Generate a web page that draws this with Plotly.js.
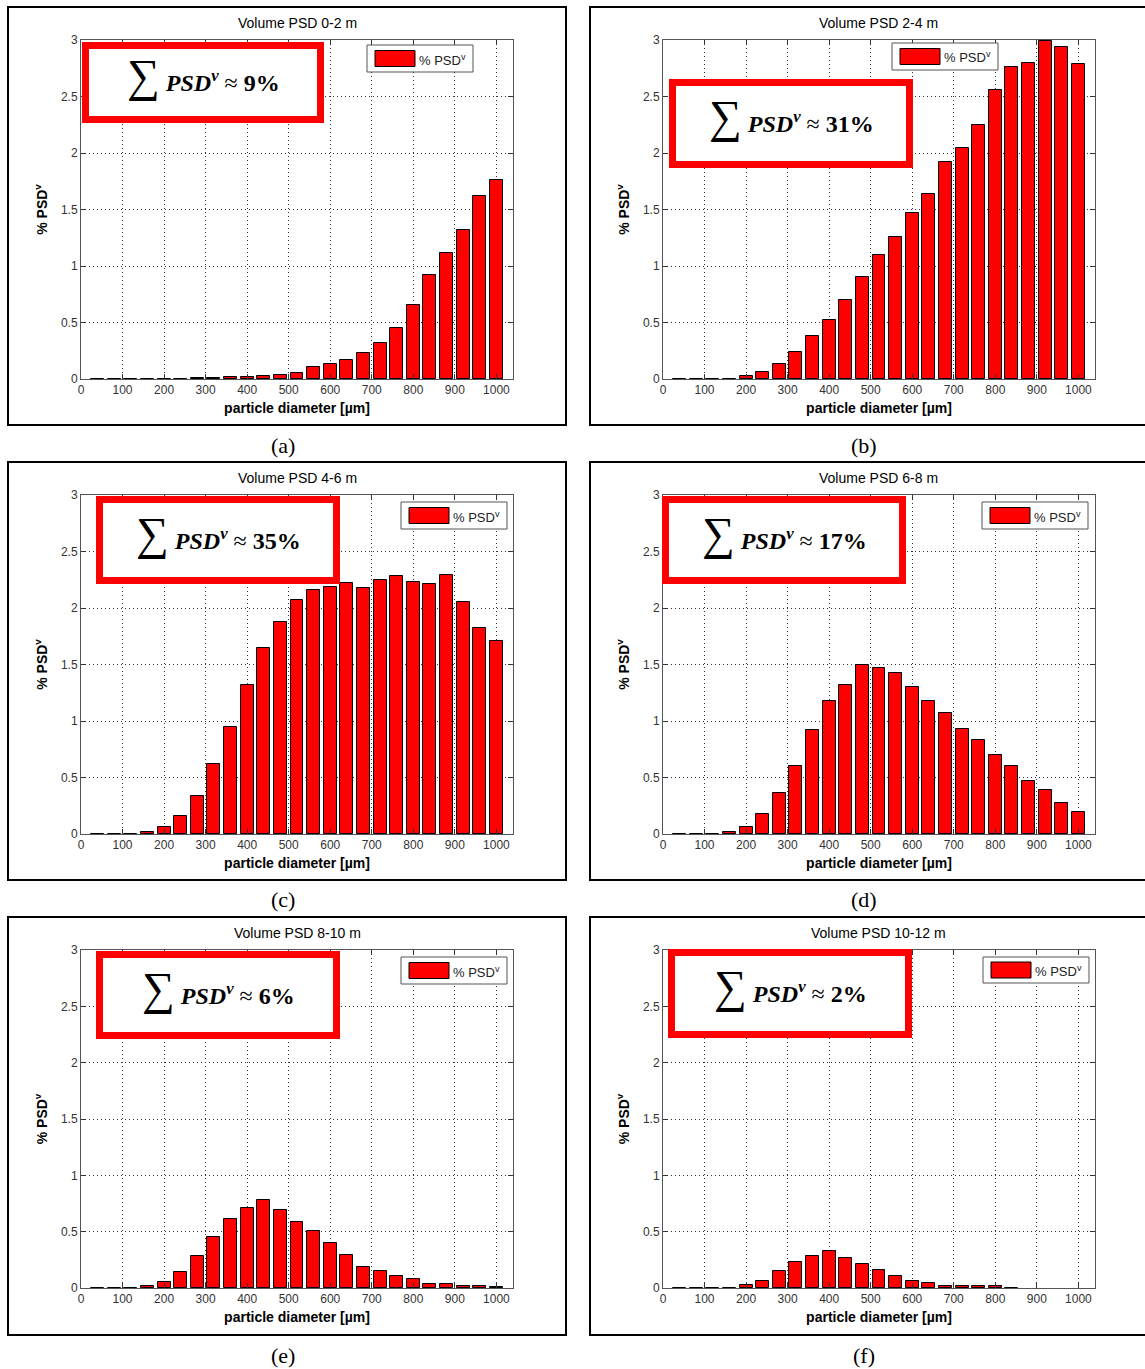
<!DOCTYPE html>
<html>
<head>
<meta charset="utf-8">
<script src="https://cdn.plot.ly/plotly-3.0.1.min.js"></script>
<style>
  html, body { margin: 0; padding: 0; background: #ffffff; }
  #chart { width: 1145px; height: 1369px; }
</style>
</head>
<body>
<div id="chart"></div>
<script>
// ---------------- DATA ----------------
const diameters = [40, 80, 120, 160, 200, 240, 280, 320, 360, 400, 440, 480, 520,
                   560, 600, 640, 680, 720, 760, 800, 840, 880, 920, 960, 1000];

const psd_0_2 = [0.004, 0.004, 0.004, 0.004, 0.004, 0.004, 0.005, 0.008, 0.018, 0.018,
                 0.027, 0.035, 0.053, 0.103, 0.133, 0.165, 0.227, 0.315, 0.455, 0.655,
                 0.92, 1.115, 1.32, 1.62, 1.76];
const psd_2_4 = [0.003, 0.003, 0.003, 0.003, 0.024, 0.059, 0.13, 0.236, 0.377, 0.52,
                 0.70, 0.90, 1.093, 1.26, 1.465, 1.64, 1.92, 2.04, 2.245, 2.56,
                 2.76, 2.80, 2.99, 2.94, 2.79];
const psd_4_6 = [0.003, 0.004, 0.004, 0.018, 0.059, 0.156, 0.34, 0.62, 0.943, 1.32,
                 1.645, 1.875, 2.07, 2.163, 2.19, 2.225, 2.18, 2.25, 2.28, 2.234,
                 2.216, 2.29, 2.057, 1.82, 1.71];
const psd_6_8 = [0.004, 0.004, 0.004, 0.018, 0.059, 0.174, 0.365, 0.598, 0.917, 1.173,
                 1.32, 1.497, 1.47, 1.426, 1.297, 1.18, 1.067, 0.925, 0.83, 0.70,
                 0.598, 0.47, 0.386, 0.277, 0.197];
const psd_8_10 = [0.003, 0.004, 0.004, 0.015, 0.05, 0.139, 0.287, 0.455, 0.61, 0.71,
                  0.777, 0.69, 0.59, 0.505, 0.40, 0.296, 0.19, 0.154, 0.11, 0.083,
                  0.038, 0.038, 0.015, 0.015, 0.006];
const psd_10_12 = [0.003, 0.003, 0.003, 0.003, 0.024, 0.065, 0.154, 0.234, 0.287, 0.331,
                   0.266, 0.216, 0.163, 0.109, 0.059, 0.041, 0.015, 0.015, 0.015, 0.015,
                   0.004, null, null, null, null];

const panelTitles = ["Volume PSD 0-2 m", "Volume PSD 2-4 m", "Volume PSD 4-6 m",
                     "Volume PSD 6-8 m", "Volume PSD 8-10 m", "Volume PSD 10-12 m"];
const sumLabels = ["9%", "31%", "35%", "17%", "6%", "2%"];
const captions = ["(a)", "(b)", "(c)", "(d)", "(e)", "(f)"];
const xTickVals = [0, 100, 200, 300, 400, 500, 600, 700, 800, 900, 1000];
const yTickVals = [0, 0.5, 1, 1.5, 2, 2.5, 3];
const seriesName = "% PSD<sup>v</sup>";

const allSeries = [psd_0_2, psd_2_4, psd_4_6, psd_6_8, psd_8_10, psd_10_12];

// ---------------- LAYOUT GEOMETRY (pixels) ----------------
const W = 1145, H = 1369;
const px = v => v / W;
const py = v => 1 - v / H;

// plot area boxes [left, right, top, bottom] in px
const plotBoxes = [
  [81, 513, 40, 379], [663, 1095, 40, 379],
  [81, 513, 495, 834], [663, 1095, 495, 834],
  [81, 513, 950, 1288], [663, 1095, 950, 1288]
];
// panel frames
const frames = [
  [8, 566, 7, 425], [590, 1152, 7, 425],
  [8, 566, 462, 880], [590, 1152, 462, 880],
  [8, 566, 917, 1335], [590, 1152, 917, 1335]
];
// red sum boxes (outer px)
const sumBoxes = [
  [82, 324, 42, 123], [669, 913, 79, 168],
  [96, 340, 496, 584], [662, 906, 496, 584],
  [96, 340, 951, 1039], [668, 912, 949, 1038]
];
// legend boxes
const legendBoxes = [
  [367, 473, 45, 72], [892, 998, 43, 70],
  [401, 507, 502, 529], [982, 1088, 502, 529],
  [401, 507, 957, 984], [983, 1089, 957, 983]
];

const fontSans = "Liberation Sans";
const fontSerif = "Liberation Serif";

const traces = [];
const layout = {
  width: W, height: H,
  margin: {l: 0, r: 0, t: 0, b: 0},
  paper_bgcolor: "#ffffff",
  plot_bgcolor: "#ffffff",
  showlegend: false,
  bargap: 0,
  shapes: [],
  annotations: []
};

allSeries.forEach((vals, i) => {
  const n = i + 1;
  const xa = n === 1 ? "x" : "x" + n;
  const ya = n === 1 ? "y" : "y" + n;
  traces.push({
    type: "bar",
    x: diameters,
    y: vals,
    width: 31,
    name: seriesName,
    xaxis: xa, yaxis: ya,
    marker: {color: "#ff0000", line: {color: "#000000", width: 1}},
    hoverinfo: "x+y"
  });
  const b = plotBoxes[i];
  const axCommon = {
    ticks: "inside", ticklen: 5, tickcolor: "#333333",
    mirror: "allticks", showline: true, linecolor: "#555555", linewidth: 1,
    showgrid: true, gridcolor: "#333333", griddash: "1px,3px", gridwidth: 1,
    zeroline: false, fixedrange: true,
    tickfont: {family: fontSans, size: 12, color: "#333333"}
  };
  layout["xaxis" + (n === 1 ? "" : n)] = Object.assign({}, axCommon, {
    domain: [px(b[0]), px(b[1])],
    anchor: ya,
    range: [0, 1040],
    tickmode: "array", tickvals: xTickVals,
    title: {text: "<b>particle diameter [µm]</b>", standoff: 6,
            font: {family: fontSans, size: 14, color: "#000000"}}
  });
  layout["yaxis" + (n === 1 ? "" : n)] = Object.assign({}, axCommon, {
    domain: [py(b[3]), py(b[2])],
    anchor: xa,
    range: [0, 3],
    tickmode: "array", tickvals: yTickVals,
    title: {text: "<b>% PSD<sup>v</sup></b>", standoff: 10,
            font: {family: fontSans, size: 14, color: "#000000"}}
  });

  // panel frame
  const f = frames[i];
  layout.shapes.push({type: "rect", xref: "paper", yref: "paper",
    x0: px(f[0]), x1: px(f[1]), y0: py(f[3]), y1: py(f[2]),
    line: {color: "#000000", width: 2}, layer: "above"});

  // panel title
  layout.annotations.push({xref: "paper", yref: "paper",
    x: px((b[0] + b[1]) / 2), y: py(b[2] - 17), xanchor: "center", yanchor: "middle",
    text: panelTitles[i], showarrow: false,
    font: {family: fontSans, size: 14, color: "#000000"}});

  // caption
  layout.annotations.push({xref: "paper", yref: "paper",
    x: px((f[0] + Math.min(f[1], 1137)) / 2 + (i % 2 === 0 ? -4 : 0)), y: py(f[3] + 20),
    xanchor: "center", yanchor: "middle",
    text: captions[i], showarrow: false,
    font: {family: fontSerif, size: 22, color: "#000000"}});

  // legend (drawn)
  const L = legendBoxes[i];
  layout.shapes.push({type: "rect", xref: "paper", yref: "paper",
    x0: px(L[0]), x1: px(L[1]), y0: py(L[3]), y1: py(L[2]),
    fillcolor: "#ffffff", line: {color: "#555555", width: 1}, layer: "above"});
  const midY = (L[2] + L[3]) / 2;
  layout.shapes.push({type: "rect", xref: "paper", yref: "paper",
    x0: px(L[0] + 8), x1: px(L[0] + 48), y0: py(midY + 8), y1: py(midY - 8),
    fillcolor: "#ff0000", line: {color: "#000000", width: 1}, layer: "above"});
  layout.annotations.push({xref: "paper", yref: "paper",
    x: px(L[0] + 50), y: py(midY + 1), xanchor: "left", yanchor: "middle",
    text: seriesName, showarrow: false,
    font: {family: fontSans, size: 13, color: "#222222"}});

  // red sum box
  const S = sumBoxes[i];
  const lw = 7;
  layout.shapes.push({type: "rect", xref: "paper", yref: "paper",
    x0: px(S[0] + lw / 2), x1: px(S[1] - lw / 2), y0: py(S[3] - lw / 2), y1: py(S[2] + lw / 2),
    fillcolor: "#ffffff", line: {color: "#ff0000", width: lw}, layer: "above"});
  layout.annotations.push({xref: "paper", yref: "paper",
    x: px((S[0] + S[1]) / 2), y: py((S[2] + S[3]) / 2 - 7), xanchor: "center", yanchor: "middle",
    text: '<span style="font-size:46px">∑</span> <b><i>PSD<sup>v</sup></i></b> ≈ <b>' + sumLabels[i] + '</b>',
    showarrow: false,
    font: {family: fontSerif, size: 24, color: "#000000"}});
});

Plotly.newPlot("chart", traces, layout, {displayModeBar: false});
</script>
</body>
</html>
